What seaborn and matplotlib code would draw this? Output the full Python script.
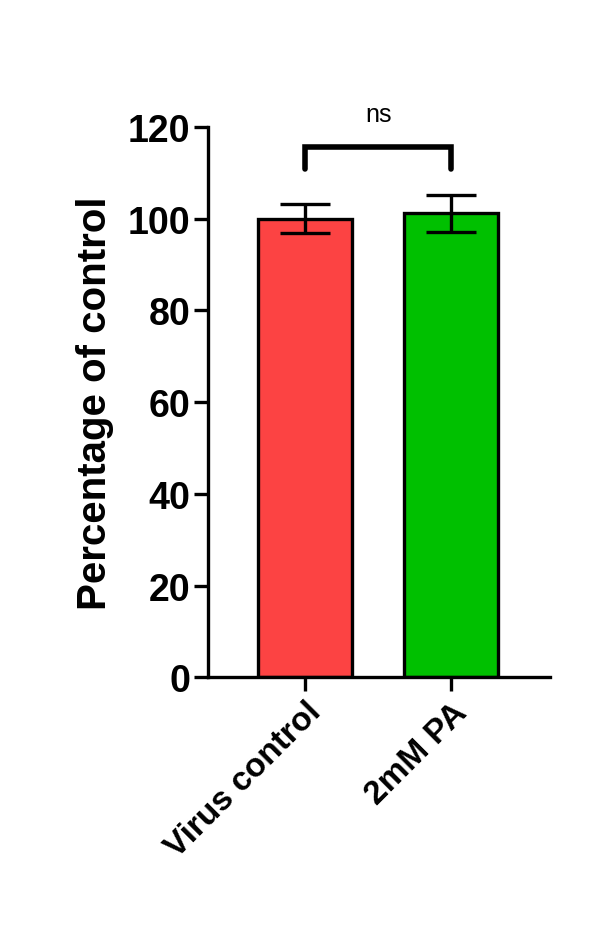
import matplotlib
matplotlib.use("Agg")
import matplotlib.pyplot as plt
import seaborn as sns
import pandas as pd

categories = ["Virus control", "2mM PA"]
means = [100.0, 101.2]
errs = [3.2, 4.0]
colors = ["#FC4343", "#00C000"]

sns.set_style("ticks")
plt.rcParams['font.family'] = ['Liberation Sans', 'DejaVu Sans']
plt.rcParams['font.weight'] = 'bold'
plt.rcParams['text.color'] = 'black'
plt.rcParams['xtick.color'] = 'black'
plt.rcParams['ytick.color'] = 'black'
plt.rcParams['axes.labelcolor'] = 'black'
plt.rcParams['axes.edgecolor'] = 'black'

df = pd.DataFrame({"cat": categories, "val": means})
fig = plt.figure(figsize=(6.16, 9.28), dpi=100)
ax = fig.add_axes([0.338, 0.269, 0.555, 0.593])
sns.barplot(data=df, x="cat", y="val", hue="cat", palette=colors, width=0.64, saturation=1,
            edgecolor="black", linewidth=2.4, legend=False, ax=ax, errorbar=None)
ax.errorbar(range(len(categories)), means, yerr=errs, fmt="none", ecolor="black",
            elinewidth=2.4, capsize=18, capthick=2.4, zorder=5)
ax.set_xlim(-0.664, 1.678)
ax.set_ylim(0, 120)
ax.set_yticks(range(0, 121, 20))
ax.set_xlabel("")
ax.set_ylabel("Percentage of control", fontsize=29, fontweight="bold", labelpad=10)
for s in ["top", "right"]:
    ax.spines[s].set_visible(False)
for s in ["left", "bottom"]:
    ax.spines[s].set_linewidth(2.4)
ax.tick_params(axis="both", width=2.4, length=10)
ax.tick_params(axis="x", labelsize=24)
ax.tick_params(axis="y", labelsize=27, pad=3)
plt.setp(ax.get_xticklabels(), rotation=45, ha="right", rotation_mode="anchor", fontweight="bold")
plt.setp(ax.get_yticklabels(), fontweight="bold")
# significance bracket
ax.plot([0, 0, 1, 1], [110.8, 115.6, 115.6, 110.8], color="black", lw=4, clip_on=False,
        solid_joinstyle="miter")
ax.text(0.5, 122.8, "ns", ha="center", va="center", fontsize=18, fontweight="normal")
fig.savefig("out.png", dpi=100)
